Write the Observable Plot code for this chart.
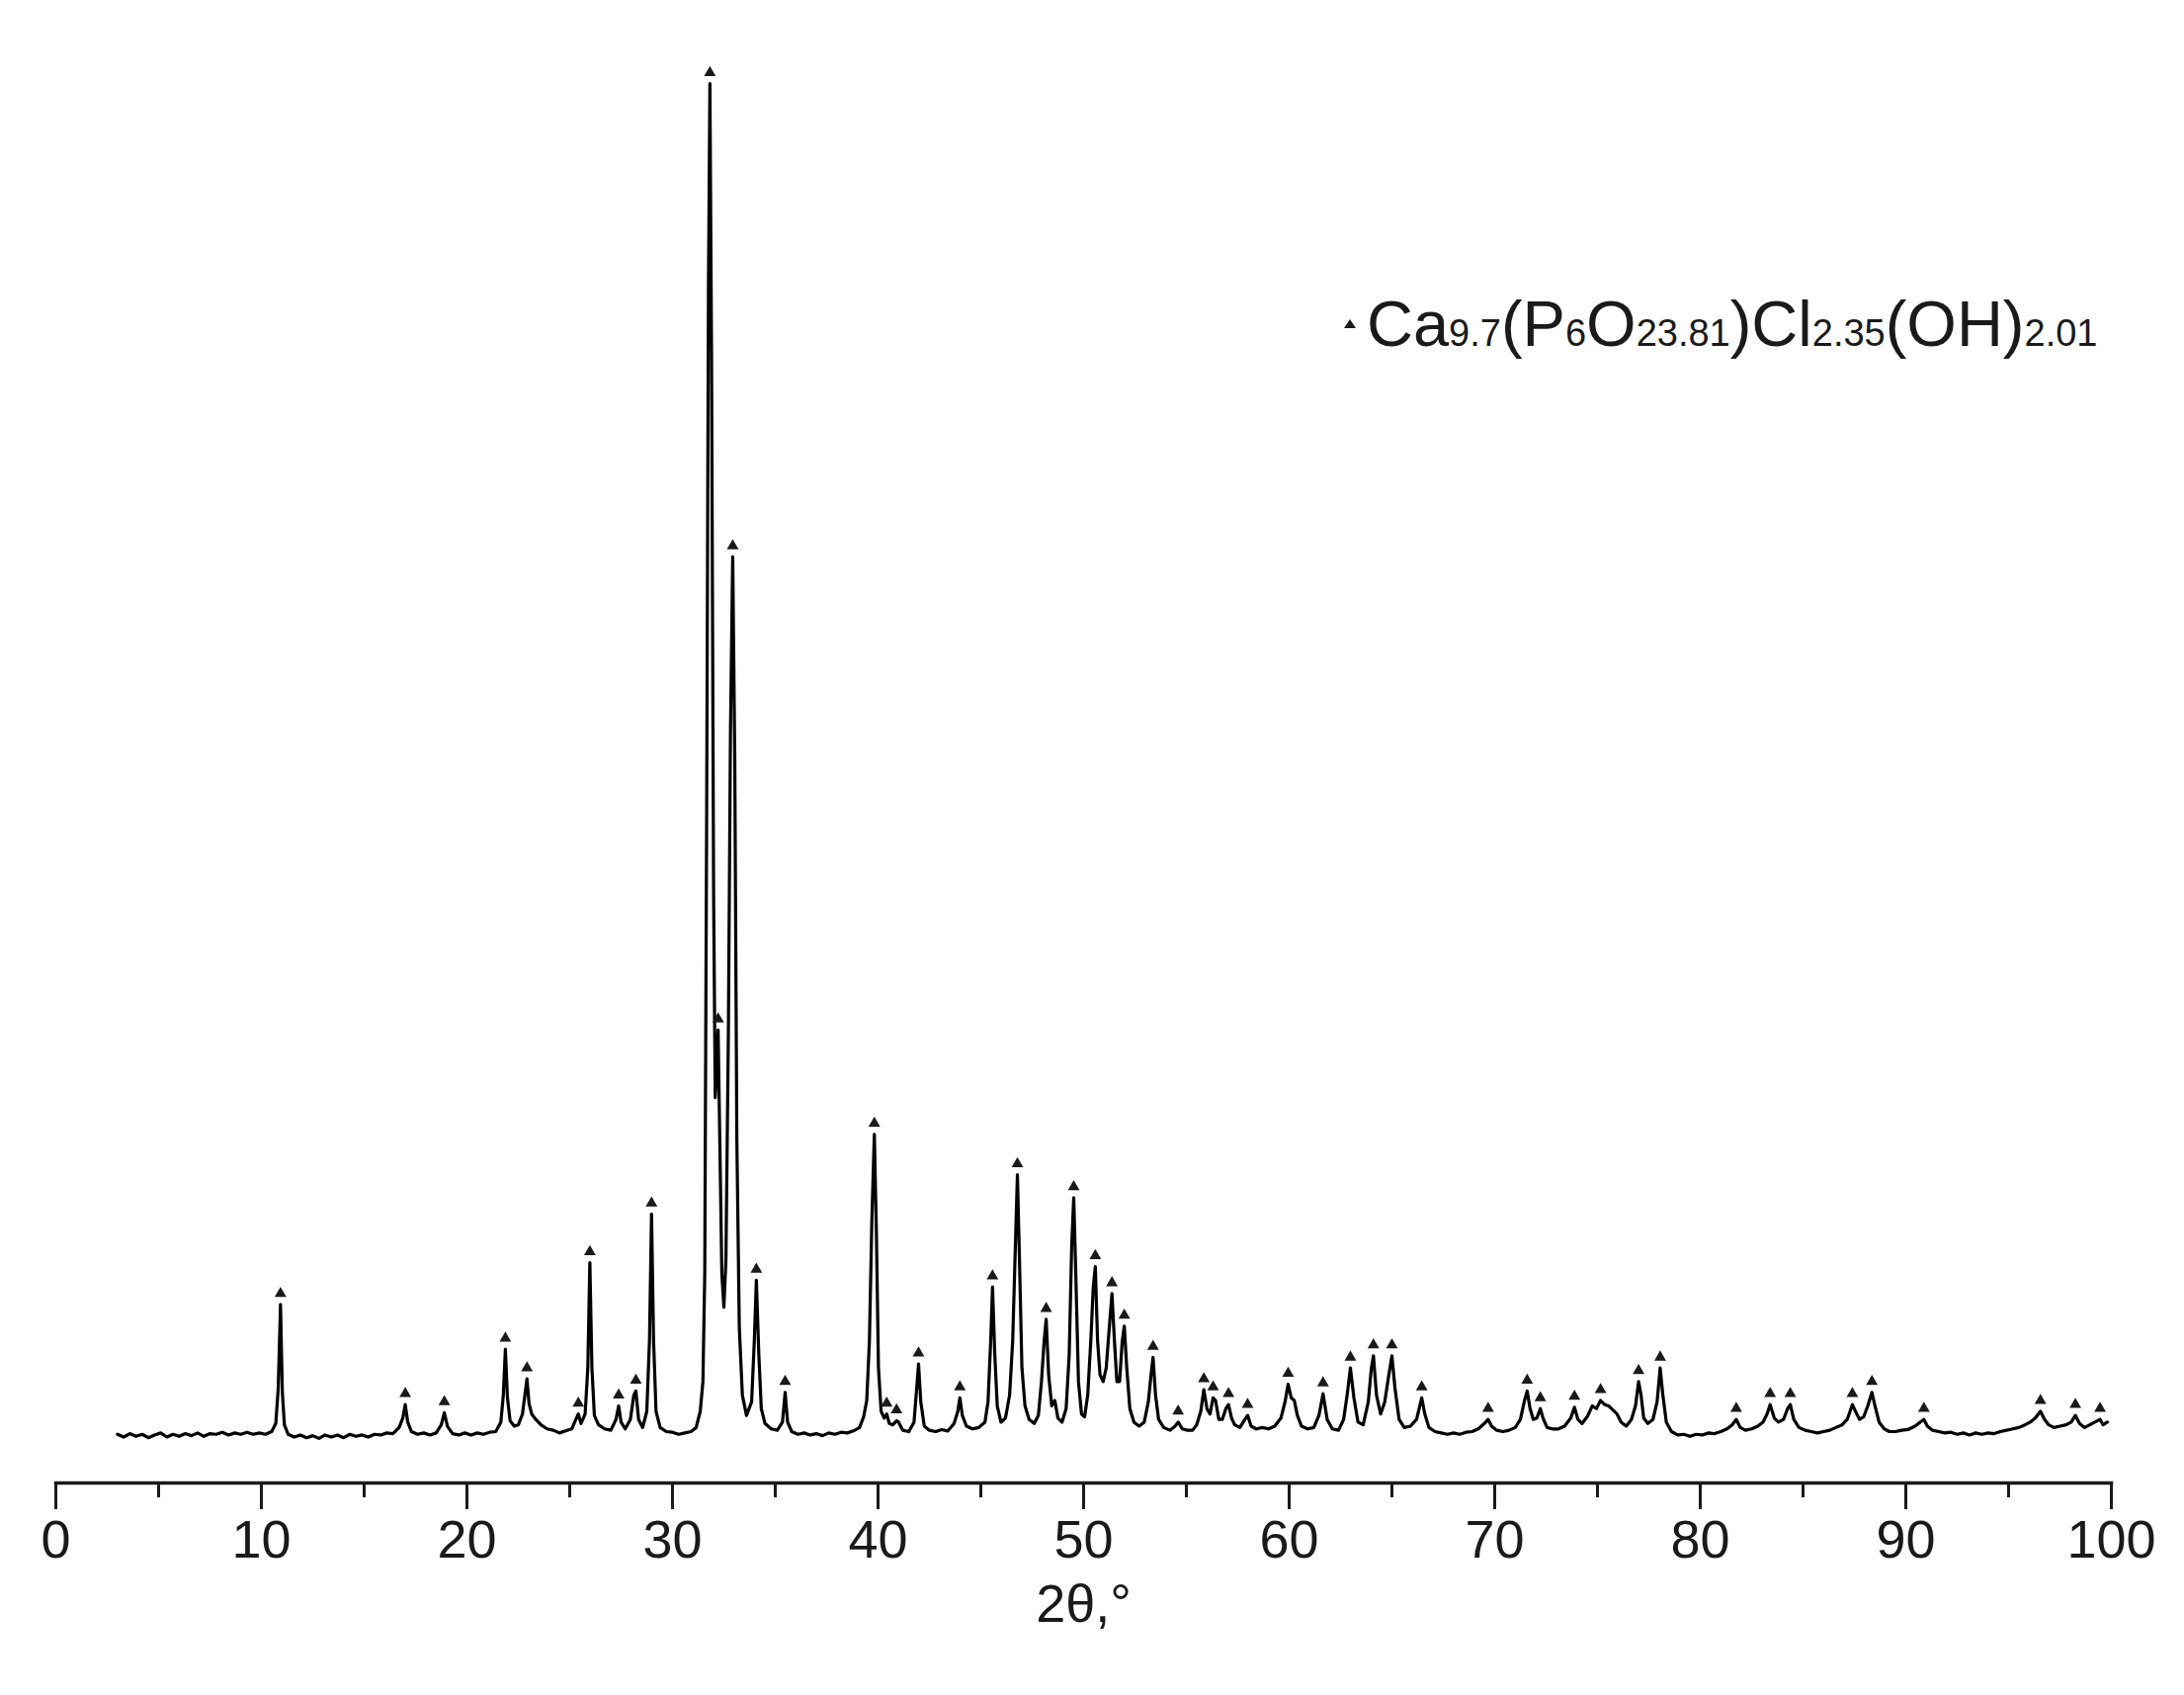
<!DOCTYPE html>
<html><head><meta charset="utf-8">
<script src="https://cdn.jsdelivr.net/npm/d3@7"></script>
<script src="https://cdn.jsdelivr.net/npm/@observablehq/plot@0.6"></script>
<style>
body{margin:0;background:#fff;}
#wrap{position:relative;width:2210px;height:1715px;}
#legend{position:absolute;left:1360px;top:295px;font-family:"Liberation Sans",Arial,sans-serif;font-size:65px;line-height:1;color:#1a1a1a;white-space:nowrap;}
#legend .sub{font-size:38px;}
#legend .mk{display:inline-block;width:0;height:0;border-left:6px solid transparent;border-right:6px solid transparent;border-bottom:9px solid #1a1a1a;margin-right:11px;vertical-align:18px;}
</style></head><body><div id="wrap"><div id="legend"></div></div>
<script>
// XRD pattern: [2θ, relative intensity]
const pattern = [
[3.0,0.1],[3.3,-0.1],[3.6,0.15],[3.9,-0.05],[4.2,0.1],[4.5,-0.15],[4.8,0.05],[5.1,0.2],[5.4,-0.1],[5.7,0.1],[6.0,-0.05],[6.3,0.15],[6.6,0],[6.9,0.2],[7.2,-0.05],[7.5,0.15],[7.8,0.1],[8.1,0.25],[8.4,0.05],[8.7,0.2],[9.0,0.1],[9.3,0.25],[9.6,0.1],[9.9,0.2],[10.2,0.1],[10.5,0.3],[10.7,0.9],[10.82,3.5],[10.93,9.7],[11.02,3.2],[11.12,0.8],[11.3,0.1],[11.6,-0.1],[11.9,0.05],[12.2,-0.15],[12.5,0],[12.8,-0.2],[13.1,0.05],[13.4,-0.1],[13.7,0.05],[14.0,-0.15],[14.3,0.1],[14.6,-0.05],[14.9,0.05],[15.2,-0.1],[15.5,0.1],[15.8,0.05],[16.1,0.2],[16.4,0.15],[16.7,0.6],[16.88,1.3],[17.0,2.3],[17.12,1.0],[17.3,0.3],[17.6,0.1],[17.9,0.2],[18.2,0.05],[18.5,0.2],[18.75,0.8],[18.9,1.7],[19.05,0.7],[19.3,0.15],[19.6,0.05],[19.9,0.2],[20.2,0.05],[20.5,0.2],[20.8,0.1],[21.1,0.25],[21.4,0.3],[21.65,1.0],[21.77,3.0],[21.87,6.4],[21.97,2.8],[22.1,1.1],[22.3,0.7],[22.5,0.8],[22.7,1.6],[22.82,3.0],[22.92,4.2],[23.02,2.4],[23.15,1.6],[23.35,1.2],[23.6,0.8],[23.9,0.5],[24.2,0.4],[24.5,0.2],[24.8,0.35],[25.1,0.5],[25.3,1.2],[25.42,1.6],[25.55,0.9],[25.75,1.6],[25.88,5],[25.98,12.8],[26.08,5],[26.2,1.5],[26.4,0.8],[26.7,0.5],[27.0,0.4],[27.25,1.2],[27.38,2.2],[27.5,1.0],[27.7,0.5],[27.95,1.2],[28.12,3.0],[28.22,3.3],[28.35,1.2],[28.55,0.6],[28.75,1.8],[28.88,7],[28.98,16.4],[29.08,7],[29.2,1.8],[29.4,0.6],[29.7,0.3],[30.0,0.25],[30.3,0.1],[30.6,0.2],[30.9,0.3],[31.15,0.6],[31.35,1.8],[31.48,4],[31.57,12],[31.66,45],[31.75,85],[31.82,100],[31.9,80],[32.0,40],[32.08,25],[32.15,27],[32.22,30],[32.3,22],[32.4,12],[32.5,9.5],[32.6,13],[32.72,30],[32.82,52],[32.93,65],[33.03,50],[33.13,22],[33.25,8],[33.4,3],[33.6,1.5],[33.85,2.5],[33.98,7],[34.08,11.5],[34.2,6],[34.32,2],[34.5,0.9],[34.8,0.5],[35.1,0.4],[35.35,1.0],[35.48,3.2],[35.6,1.0],[35.8,0.3],[36.1,0.1],[36.4,0.2],[36.7,0.05],[37.0,0.15],[37.3,0],[37.6,0.2],[37.9,0.1],[38.2,0.25],[38.5,0.2],[38.8,0.35],[39.1,0.6],[39.3,1.4],[39.45,2.6],[39.58,7],[39.7,16],[39.82,22.3],[39.92,15],[40.02,5],[40.15,1.8],[40.3,1.3],[40.42,1.6],[40.55,0.9],[40.72,0.8],[40.9,1.1],[41.0,1.0],[41.2,0.4],[41.5,0.3],[41.75,1.0],[41.88,3.5],[41.97,5.3],[42.08,2.5],[42.25,0.7],[42.5,0.4],[42.8,0.3],[43.1,0.45],[43.4,0.35],[43.7,0.9],[43.88,1.8],[43.98,2.8],[44.1,1.5],[44.3,0.7],[44.6,0.5],[44.9,0.6],[45.2,1.0],[45.35,2.5],[45.48,7],[45.57,11],[45.68,6],[45.8,2.2],[45.98,1.0],[46.2,1.3],[46.4,3],[46.55,7],[46.68,14],[46.78,19.3],[46.88,13],[47.0,5],[47.15,2.2],[47.35,1.2],[47.6,0.9],[47.8,1.5],[47.95,4],[48.08,7],[48.18,8.6],[48.3,4.5],[48.45,2.2],[48.6,2.6],[48.75,1.3],[48.95,1.0],[49.15,2],[49.3,6],[49.42,14],[49.52,17.6],[49.62,12],[49.75,4],[49.9,1.6],[50.05,1.4],[50.2,3],[50.35,7],[50.47,11],[50.57,12.5],[50.68,7],[50.8,4.5],[50.95,4.0],[51.1,5],[51.25,8],[51.38,10.5],[51.5,7],[51.62,4],[51.75,4],[51.88,7],[51.98,8.1],[52.1,5],[52.25,2],[52.45,1],[52.7,0.7],[52.95,1.0],[53.15,2.5],[53.28,4.5],[53.38,5.8],[53.5,3],[53.65,1.2],[53.9,0.6],[54.2,0.4],[54.45,0.7],[54.6,1.0],[54.8,0.5],[55.05,0.4],[55.3,0.4],[55.5,0.8],[55.7,1.8],[55.85,3.4],[56.0,2.0],[56.15,1.6],[56.3,2.8],[56.42,2.6],[56.58,1.2],[56.75,1.2],[56.92,2.0],[57.05,2.3],[57.2,1.3],[57.35,0.8],[57.6,0.6],[57.85,1.2],[57.98,1.5],[58.15,0.7],[58.4,0.5],[58.7,0.6],[59.0,0.5],[59.3,0.7],[59.6,1.3],[59.8,2.5],[59.95,3.8],[60.1,2.8],[60.25,2.6],[60.4,1.5],[60.6,0.7],[60.9,0.5],[61.2,0.6],[61.45,1.5],[61.65,3.1],[61.85,1.2],[62.1,0.5],[62.4,0.4],[62.65,1.2],[62.82,3],[62.98,5],[63.15,2.8],[63.35,1.0],[63.6,0.8],[63.85,2.5],[64.0,5],[64.1,5.9],[64.25,3],[64.45,1.6],[64.65,2.5],[64.85,4.5],[65.0,5.9],[65.15,3.5],[65.35,1.2],[65.6,0.6],[65.9,0.7],[66.2,1.2],[66.45,2.8],[66.6,1.6],[66.8,0.6],[67.1,0.3],[67.4,0.2],[67.7,0.1],[68.0,0.2],[68.3,0.1],[68.6,0.25],[68.9,0.3],[69.2,0.5],[69.5,0.9],[69.68,1.2],[69.85,0.7],[70.1,0.4],[70.4,0.3],[70.7,0.4],[71.0,0.6],[71.25,1.2],[71.45,2.6],[71.58,3.3],[71.72,2.0],[71.88,1.2],[72.05,1.3],[72.22,2.0],[72.35,1.3],[72.55,0.6],[72.8,0.5],[73.1,0.5],[73.4,0.7],[73.7,1.3],[73.88,2.1],[74.05,1.2],[74.25,0.9],[74.5,1.4],[74.75,2.2],[74.95,2.0],[75.15,2.6],[75.35,2.3],[75.55,2.2],[75.75,1.9],[75.95,1.6],[76.15,1.0],[76.4,0.7],[76.65,1.2],[76.85,2.2],[77.0,4],[77.12,3.0],[77.25,1.3],[77.45,0.9],[77.7,1.2],[77.9,2.5],[78.05,5],[78.18,3],[78.35,1.0],[78.6,0.3],[78.9,0.05],[79.2,0.1],[79.5,-0.05],[79.8,0.1],[80.1,0.05],[80.4,0.2],[80.7,0.15],[81.0,0.3],[81.3,0.5],[81.55,0.8],[81.75,1.2],[81.95,0.6],[82.2,0.4],[82.5,0.5],[82.8,0.7],[83.05,1.0],[83.25,1.6],[83.4,2.3],[83.6,1.3],[83.8,1.0],[84.05,1.2],[84.25,2.0],[84.38,2.3],[84.55,1.2],[84.8,0.6],[85.1,0.4],[85.4,0.3],[85.7,0.2],[86.0,0.3],[86.3,0.4],[86.6,0.6],[86.9,0.8],[87.15,1.2],[87.4,2.3],[87.55,1.8],[87.75,1.2],[87.95,1.4],[88.15,2.2],[88.35,3.2],[88.5,2.2],[88.7,1.0],[88.95,0.5],[89.2,0.3],[89.5,0.3],[89.8,0.4],[90.1,0.45],[90.45,0.7],[90.7,1.0],[90.88,1.2],[91.05,0.7],[91.3,0.4],[91.6,0.3],[91.9,0.2],[92.2,0.25],[92.5,0.1],[92.8,0.2],[93.1,0.05],[93.4,0.2],[93.7,0.1],[94.0,0.2],[94.3,0.15],[94.6,0.3],[94.9,0.4],[95.2,0.5],[95.5,0.6],[95.8,0.8],[96.05,1.0],[96.3,1.3],[96.55,1.8],[96.75,1.2],[96.95,0.8],[97.2,0.6],[97.5,0.7],[97.8,0.8],[98.05,1.0],[98.25,1.5],[98.45,0.9],[98.7,0.6],[98.95,0.8],[99.2,1.0],[99.45,1.2],[99.6,0.8],[99.8,1.0]
];

// Peaks marked with ▲ (Ca9.7(P6O23.81)Cl2.35(OH)2.01)
const peakTheta = [10.93,17.0,18.9,21.87,22.92,25.42,25.98,27.38,28.22,28.98,31.82,32.22,32.93,34.08,35.48,39.82,40.42,40.9,41.97,43.98,45.57,46.78,48.18,49.52,50.57,51.38,51.98,53.38,54.6,55.85,56.3,57.05,57.98,59.95,61.65,62.98,64.1,65.0,66.45,69.68,71.58,72.22,73.88,75.15,77.0,78.05,81.75,83.4,84.38,87.4,88.35,90.88,96.55,98.25,99.45];
const peakIntensity = [9.7,2.3,1.7,6.4,4.2,1.6,12.8,2.2,3.3,16.4,100,30,65,11.5,3.2,22.3,1.6,1.1,5.3,2.8,11,19.3,8.6,17.6,12.5,10.5,8.1,5.8,1.0,3.4,2.8,2.3,1.5,3.8,3.1,5,5.9,5.9,2.8,1.2,3.3,2.0,2.1,2.6,4,5,1.2,2.3,2.3,2.3,3.2,1.2,1.8,1.5,1.2];

const majorTicks = [0,10,20,30,40,50,60,70,80,90,100];
const minorTicks = [5,15,25,35,45,55,65,75,85,95];
const xLabel = "2θ,°";
const legendParts = [["Ca",false],["9.7",true],["(P",false],["6",true],["O",false],["23.81",true],[")Cl",false],["2.35",true],["(OH)",false],["2.01",true]];

const data = pattern.map(([t, i]) => ({twoTheta: t, intensity: i}));
const peaks = peakTheta.map((t, k) => ({twoTheta: t, intensity: peakIntensity[k]}));

const ink = "#1a1a1a";
const chart = Plot.plot({
  width: 2210,
  height: 1715,
  marginTop: 84,
  marginBottom: 215,
  marginLeft: 56,
  marginRight: 74,
  x: {domain: [0, 100]},
  y: {domain: [-3.5, 100], axis: null},
  style: {fontFamily: "'Liberation Sans', Arial, sans-serif", fontSize: "54px", color: ink, background: "#fff"},
  marks: [
    Plot.frame({anchor: "bottom", stroke: ink, strokeWidth: 3.5}),
    Plot.axisX({ticks: majorTicks, tickSize: 27, tickPadding: 10, tickFormat: d => String(d), strokeWidth: 3, stroke: ink,
      label: xLabel, labelAnchor: "center", labelArrow: "none", labelOffset: 140}),
    Plot.axisX({ticks: minorTicks, tickSize: 15, tickFormat: () => "", strokeWidth: 3, stroke: ink, label: null}),
    Plot.line(data, {x: "twoTheta", y: "intensity", stroke: "#000", strokeWidth: 3.2, strokeLinejoin: "round"}),
    Plot.dot(peaks, {x: "twoTheta", y: "intensity", symbol: "triangle", r: 4.4, fill: ink, stroke: "none", dy: -11})
  ]
});

const wrap = document.getElementById("wrap");
wrap.insertBefore(chart, wrap.firstChild);
const legend = document.getElementById("legend");
const mk = document.createElement("span");
mk.className = "mk";
legend.appendChild(mk);
for (const [txt, isSub] of legendParts) {
  const s = document.createElement("span");
  if (isSub) s.className = "sub";
  s.textContent = txt;
  legend.appendChild(s);
}
</script>
</body></html>
